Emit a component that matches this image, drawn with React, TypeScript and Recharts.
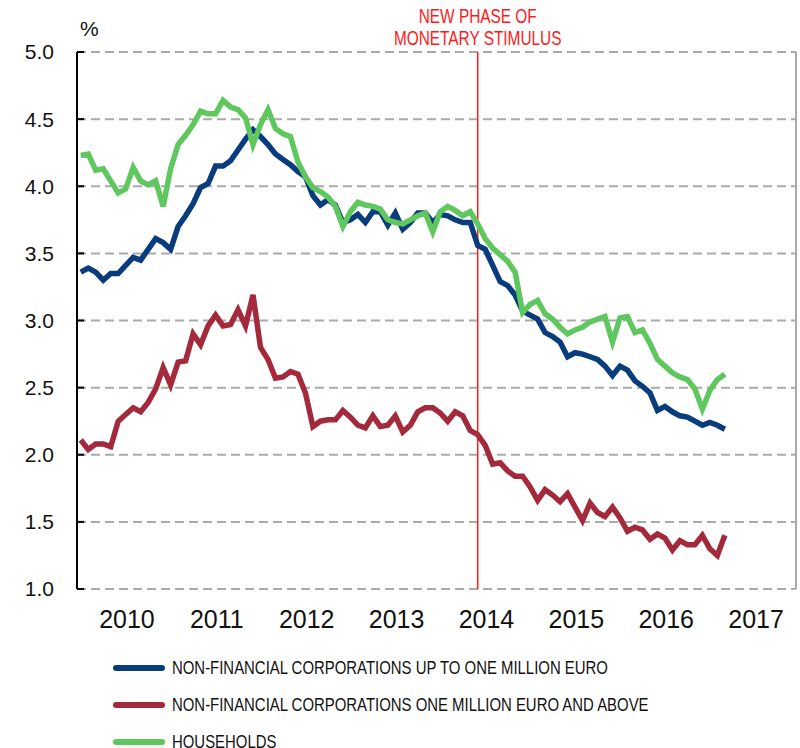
import React from 'react';
import { LineChart, Line, XAxis, YAxis, CartesianGrid, ReferenceLine } from 'recharts';

const START_YEAR = 2010;
const yearBoundaries = [2010, 2011, 2012, 2013, 2014, 2015, 2016, 2017, 2018];
const yearLabels = [2010, 2011, 2012, 2013, 2014, 2015, 2016, 2017];
const yTicks = [1.0, 1.5, 2.0, 2.5, 3.0, 3.5, 4.0, 4.5, 5.0];

// Monthly rates, Jan 2010 – Mar 2017
const smallCorporations = [
  3.36, 3.39, 3.36, 3.30, 3.35, 3.35, 3.41, 3.47, 3.45, 3.53, 3.61, 3.58,
  3.53, 3.70, 3.78, 3.87, 3.99, 4.02, 4.15, 4.15, 4.19, 4.27, 4.35, 4.42,
  4.37, 4.31, 4.24, 4.20, 4.16, 4.11, 4.07, 3.93, 3.86, 3.90, 3.86, 3.73,
  3.75, 3.79, 3.73, 3.81, 3.81, 3.71, 3.80, 3.68, 3.73, 3.80, 3.80, 3.73,
  3.79, 3.78, 3.75, 3.73, 3.73, 3.56, 3.53, 3.41, 3.29, 3.26, 3.19, 3.07,
  3.04, 3.01, 2.91, 2.88, 2.84, 2.73, 2.76, 2.75, 2.73, 2.71, 2.66, 2.59,
  2.66, 2.63, 2.55, 2.51, 2.46, 2.33, 2.36, 2.32, 2.29, 2.28, 2.25, 2.22,
  2.24, 2.22, 2.19,
];

const largeCorporations = [
  2.11, 2.04, 2.08, 2.08, 2.06, 2.25, 2.30, 2.35, 2.32, 2.39, 2.49, 2.65,
  2.52, 2.69, 2.70, 2.90, 2.82, 2.96, 3.04, 2.96, 2.97, 3.08, 2.96, 3.19,
  2.80, 2.71, 2.57, 2.58, 2.62, 2.60, 2.46, 2.21, 2.25, 2.26, 2.26, 2.33,
  2.28, 2.22, 2.20, 2.29, 2.21, 2.22, 2.29, 2.17, 2.22, 2.32, 2.35, 2.35,
  2.31, 2.25, 2.32, 2.29, 2.18, 2.15, 2.07, 1.93, 1.94, 1.88, 1.84, 1.84,
  1.76, 1.66, 1.74, 1.70, 1.65, 1.71, 1.61, 1.51, 1.64, 1.57, 1.54, 1.61,
  1.53, 1.43, 1.46, 1.44, 1.37, 1.41, 1.38, 1.29, 1.36, 1.33, 1.33, 1.40,
  1.30, 1.25, 1.40,
];

const households = [
  4.23, 4.24, 4.12, 4.13, 4.04, 3.95, 3.98, 4.14, 4.04, 4.01, 4.04, 3.85,
  4.13, 4.31, 4.38, 4.46, 4.56, 4.54, 4.54, 4.64, 4.59, 4.57, 4.51, 4.31,
  4.46, 4.57, 4.43, 4.39, 4.37, 4.18, 4.07, 3.99, 3.96, 3.92, 3.85, 3.70,
  3.81, 3.88, 3.86, 3.85, 3.83, 3.75, 3.73, 3.72, 3.75, 3.78, 3.80, 3.66,
  3.81, 3.85, 3.82, 3.78, 3.81, 3.72, 3.61, 3.54, 3.49, 3.44, 3.36, 3.06,
  3.12, 3.15, 3.05, 3.01, 2.95, 2.90, 2.93, 2.95, 2.99, 3.01, 3.03, 2.84,
  3.02, 3.03, 2.91, 2.93, 2.83, 2.71, 2.66, 2.61, 2.58, 2.56, 2.49, 2.34,
  2.48, 2.56, 2.60,
];

const stimulusMonthIndex = 53; // June 2014
const annotationLines = ['NEW PHASE OF', 'MONETARY STIMULUS'];

const seriesNames = [
  'NON-FINANCIAL CORPORATIONS UP TO ONE MILLION EURO',
  'NON-FINANCIAL CORPORATIONS ONE MILLION EURO AND ABOVE',
  'HOUSEHOLDS',
];

const COLORS = { small: '#083c7c', large: '#a3293b', hh: '#5ec85e' };

const monthPos = (i: number) => START_YEAR + (i + 0.5) / 12;

const data = smallCorporations.map((v, i) => ({
  t: monthPos(i),
  small: v,
  large: largeCorporations[i],
  hh: households[i],
}));

const SANS = 'Liberation Sans, Arial, Helvetica, sans-serif';

const AnnotationLabel = (props: any) => {
  const vb = props.viewBox || {};
  const x = vb.x ?? 0;
  const y = vb.y ?? 0;
  return (
    <g transform={`translate(${x},0) scale(0.77,1)`}>
      <text
        x={0}
        textAnchor="middle"
        fill="#ff1a1a"
        fontFamily={SANS}
        style={{ fontFamily: SANS }}
        fontSize={20}
      >
        <tspan x={0} y={y - 29}>{annotationLines[0]}</tspan>
        <tspan x={0} y={y - 7}>{annotationLines[1]}</tspan>
      </text>
    </g>
  );
};

export default function App() {
  const legendColors = [COLORS.small, COLORS.large, COLORS.hh];
  return (
    <div
      style={{
        position: 'absolute',
        left: 0,
        top: 0,
        width: 800,
        height: 748,
        overflow: 'hidden',
        background: '#fff',
        fontFamily: SANS,
      }}
    >
      <div
        style={{
          position: 'absolute',
          left: 80,
          top: 17,
          fontFamily: SANS,
          fontSize: 21,
          lineHeight: '24px',
          color: '#111',
        }}
      >
        %
      </div>
      <LineChart
        width={800}
        height={748}
        data={data}
        margin={{ top: 52, right: 4, bottom: 119, left: 0 }}
        style={{ fontFamily: SANS }}
      >
        <CartesianGrid horizontal={false} vertical={true} stroke="#aaaaaa" strokeWidth={2} />
        <CartesianGrid
          horizontal={true}
          vertical={false}
          stroke="#aaaaaa"
          strokeWidth={2}
          strokeDasharray="9 5"
        />
        <XAxis
          dataKey="t"
          type="number"
          domain={[2010, 2018]}
          ticks={yearBoundaries}
          tick={false}
          tickSize={-7}
          tickLine={{ stroke: '#000', strokeWidth: 2 }}
          axisLine={{ stroke: '#000', strokeWidth: 2 }}
          height={0}
          interval={0}
        />
        <XAxis
          xAxisId="labels"
          dataKey="t"
          type="number"
          domain={[2010, 2018]}
          ticks={yearLabels.map((y) => y + 0.5)}
          tickFormatter={(v: number) => String(Math.floor(v))}
          tickLine={false}
          axisLine={false}
          tickSize={0}
          tickMargin={21}
          height={40}
          interval={0}
          tick={{ fill: '#111', fontSize: 25, fontFamily: SANS, dx: 5 }}
        />
        <YAxis
          type="number"
          domain={[1, 5]}
          ticks={yTicks}
          width={77}
          tickSize={-7}
          tickMargin={30}
          interval={0}
          tickFormatter={(v: number) => v.toFixed(1)}
          tickLine={{ stroke: '#000', strokeWidth: 2 }}
          axisLine={{ stroke: '#000', strokeWidth: 2 }}
          tick={{ fill: '#111', fontSize: 21, fontFamily: SANS }}
        />
        <ReferenceLine
          x={monthPos(stimulusMonthIndex)}
          stroke="#ff1a1a"
          strokeWidth={1.5}
          label={<AnnotationLabel />}
        />
        <Line type="linear" dataKey="small" stroke={COLORS.small} strokeWidth={5.5} dot={false} isAnimationActive={false} />
        <Line type="linear" dataKey="large" stroke={COLORS.large} strokeWidth={5.5} dot={false} isAnimationActive={false} />
        <Line type="linear" dataKey="hh" stroke={COLORS.hh} strokeWidth={5.5} dot={false} isAnimationActive={false} />
      </LineChart>
      {seriesNames.map((name, i) => (
        <div
          key={name}
          style={{
            position: 'absolute',
            left: 113,
            top: 657 + i * 37,
            height: 22,
            display: 'flex',
            alignItems: 'center',
            whiteSpace: 'nowrap',
          }}
        >
          <span
            style={{
              display: 'inline-block',
              width: 52,
              height: 6,
              borderRadius: 3,
              background: legendColors[i],
              marginRight: 7,
            }}
          />
          <span
            style={{
              display: 'inline-block',
              fontFamily: SANS,
              fontSize: 19,
              lineHeight: '22px',
              color: '#111',
              transform: 'scaleX(0.785)',
              transformOrigin: 'left center',
            }}
          >
            {name}
          </span>
        </div>
      ))}
    </div>
  );
}
